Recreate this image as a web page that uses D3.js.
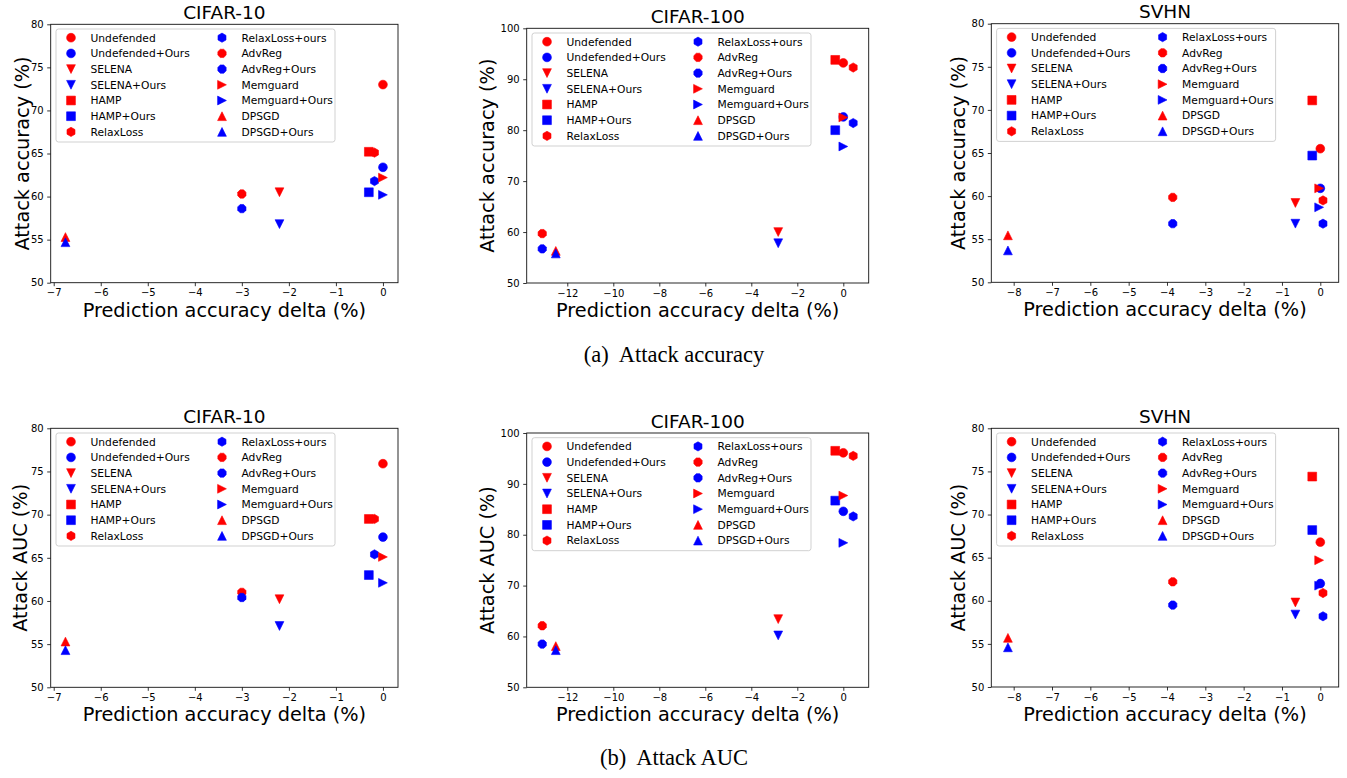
<!DOCTYPE html>
<html>
<head>
<meta charset="utf-8">
<script src="https://cdn.jsdelivr.net/npm/d3@7"></script>
<style>
  html, body { margin: 0; padding: 0; background: #fff; }
  svg { display: block; }
</style>
</head>
<body>
<svg id="chart" width="1347" height="778"></svg>
<script>
// ---------------- DATA ----------------
const methods = ["Undefended", "Undefended+Ours", "SELENA", "SELENA+Ours", "HAMP", "HAMP+Ours",
  "RelaxLoss", "RelaxLoss+ours", "AdvReg", "AdvReg+Ours", "Memguard", "Memguard+Ours", "DPSGD", "DPSGD+Ours"];

// prediction accuracy delta (%) per method, per dataset
const cifar10Delta  = [0, 0, -2.2, -2.2, -0.3, -0.3, -0.18, -0.18, -3.0, -3.0, 0, 0, -6.75, -6.75];
const cifar100Delta = [0, 0, -2.83, -2.83, -0.35, -0.35, 0.43, 0.43, -13.09, -13.09, 0, 0, -12.5, -12.5];
const svhnDelta     = [0, 0, -0.65, -0.65, -0.21, -0.21, 0.07, 0.07, -3.85, -3.85, -0.03, -0.03, -8.15, -8.15];

// attack accuracy (%)
const cifar10Acc  = [73.0, 63.4, 60.5, 56.8, 65.2, 60.5, 65.1, 61.8, 60.3, 58.6, 62.2, 60.2, 55.3, 54.7];
const cifar100Acc = [93.2, 82.6, 60.0, 57.8, 93.8, 80.0, 92.3, 81.4, 59.7, 56.7, 82.5, 76.8, 56.3, 55.8];
const svhnAcc     = [65.5, 60.9, 59.2, 56.8, 71.1, 64.7, 59.5, 56.8, 59.85, 56.8, 60.9, 58.7, 55.45, 53.7];

// attack AUC (%)
const cifar10Auc  = [75.9, 67.4, 60.2, 57.1, 69.5, 63.0, 69.5, 65.4, 61.0, 60.4, 65.1, 62.1, 55.3, 54.3];
const cifar100Auc = [96.1, 84.6, 63.4, 60.2, 96.5, 86.7, 95.5, 83.6, 62.1, 58.5, 87.7, 78.4, 58.1, 57.3];
const svhnAuc     = [66.8, 62.0, 59.8, 58.4, 74.4, 68.2, 60.9, 58.2, 62.2, 59.5, 64.7, 61.75, 55.7, 54.6];

const cifar10XTicks  = [-7, -6, -5, -4, -3, -2, -1, 0];
const cifar100XTicks = [-12, -10, -8, -6, -4, -2, 0];
const svhnXTicks     = [-8, -7, -6, -5, -4, -3, -2, -1, 0];
const yTicks80  = [50, 55, 60, 65, 70, 75, 80];
const yTicks100 = [50, 60, 70, 80, 90, 100];

const datasetTitles = ["CIFAR-10", "CIFAR-100", "SVHN"];
const rowYLabels = ["Attack accuracy (%)", "Attack AUC (%)"];
const xLabel = "Prediction accuracy delta (%)";
const captions = ["(a)  Attack accuracy", "(b)  Attack AUC"];

// ---------------- STYLE ----------------
const markerShapes = ["o", "o", "v", "v", "s", "s", "h", "h", "8", "8", ">", ">", "^", "^"];
const markerColors = methods.map((m, i) => i % 2 === 0 ? "#ff0000" : "#0000ff");
const MS = 8.8;

function markerPath(shape, ms) {
  const h = ms / 2;
  const poly = pts => "M" + pts.map(p => p[0].toFixed(3) + "," + p[1].toFixed(3)).join("L") + "Z";
  const reg = (n, rot, r) => d3.range(n).map(k => {
    const a = rot + k * 2 * Math.PI / n;
    return [r * Math.sin(a), -r * Math.cos(a)];
  });
  switch (shape) {
    case "o": return d3.symbol(d3.symbolCircle, Math.PI * h * h)();
    case "s": return poly([[-h, -h], [h, -h], [h, h], [-h, h]]);
    case "^": return poly([[0, -h], [h, h], [-h, h]]);
    case "v": return poly([[0, h], [h, -h], [-h, -h]]);
    case ">": return poly([[h, 0], [-h, h], [-h, -h]]);
    case "h": return poly(reg(6, 0, h * 1.05));
    case "8": return poly(reg(8, Math.PI / 8, h * 1.02));
  }
}

// ---------------- LAYOUT ----------------
const panels = [
  {title: 0, row: 0, x: cifar10Delta,  y: cifar10Acc,  xt: cifar10XTicks,  yt: yTicks80,  xd: [-7.064, 0.32],  yd: [50, 80],  L: 50.7,  R: 398,    T: 24.3, B: 282.7, yl: 21.7},
  {title: 1, row: 0, x: cifar100Delta, y: cifar100Acc, xt: cifar100XTicks, yt: yTicks100, xd: [-13.765, 1.104], yd: [50, 100], L: 526.7, R: 868.7,  T: 28.3, B: 283,   yl: 487.3},
  {title: 2, row: 0, x: svhnDelta,     y: svhnAcc,     xt: svhnXTicks,     yt: yTicks80,  xd: [-8.584, 0.48],  yd: [50, 80],  L: 991.3, R: 1338.7, T: 23.7, B: 282.3, yl: 958.3},
  {title: 0, row: 1, x: cifar10Delta,  y: cifar10Auc,  xt: cifar10XTicks,  yt: yTicks80,  xd: [-7.064, 0.32],  yd: [50, 80],  L: 50.7,  R: 398,    T: 428.3, B: 687.3, yl: 20.5},
  {title: 1, row: 1, x: cifar100Delta, y: cifar100Auc, xt: cifar100XTicks, yt: yTicks100, xd: [-13.765, 1.104], yd: [50, 100], L: 526.7, R: 868.7,  T: 433,   B: 687.3, yl: 487.3},
  {title: 2, row: 1, x: svhnDelta,     y: svhnAuc,     xt: svhnXTicks,     yt: yTicks80,  xd: [-8.584, 0.48],  yd: [50, 80],  L: 991.3, R: 1338.7, T: 428.3, B: 687,   yl: 958.3}
];

const svg = d3.select("#chart");
const SANS = "'DejaVu Sans', sans-serif";
const fmt = v => String(v).replace("-", "\u2212");

panels.forEach(p => {
  const g = svg.append("g");
  const x = d3.scaleLinear().domain(p.xd).range([p.L, p.R]);
  const y = d3.scaleLinear().domain(p.yd).range([p.B, p.T]);

  // axes
  const xAxis = d3.axisBottom(x).tickValues(p.xt).tickFormat(fmt).tickSizeOuter(0).tickSize(3.5).tickPadding(3);
  const yAxis = d3.axisLeft(y).tickValues(p.yt).tickFormat(fmt).tickSizeOuter(0).tickSize(3.5).tickPadding(3.5);
  const gx = g.append("g").attr("transform", `translate(0,${p.B})`).call(xAxis);
  const gy = g.append("g").attr("transform", `translate(${p.L},0)`).call(yAxis);
  [gx, gy].forEach(a => {
    a.select(".domain").remove();
    a.selectAll("line").attr("stroke", "#000").attr("stroke-width", 0.8);
    a.selectAll("text").attr("font-family", SANS).attr("font-size", 10).attr("fill", "#000");
  });

  // frame
  g.append("rect").attr("x", p.L).attr("y", p.T).attr("width", p.R - p.L).attr("height", p.B - p.T)
    .attr("fill", "none").attr("stroke", "#111").attr("stroke-width", 0.9);

  // title
  g.append("text").attr("x", (p.L + p.R) / 2).attr("y", p.T - 5.5).attr("text-anchor", "middle")
    .attr("font-family", SANS).attr("font-size", 18.5).attr("fill", "#000").text(datasetTitles[p.title]);

  // x label
  g.append("text").attr("x", (p.L + p.R) / 2).attr("y", p.B + 34).attr("text-anchor", "middle")
    .attr("font-family", SANS).attr("font-size", 19.3).attr("fill", "#000").text(xLabel);

  // y label
  g.append("text").attr("transform", `translate(${p.yl},${(p.T + p.B) / 2}) rotate(-90)`)
    .attr("text-anchor", "middle").attr("dy", "0.36em")
    .attr("font-family", SANS).attr("font-size", 19.3).attr("fill", "#000").text(rowYLabels[p.row]);

  // points
  const pts = methods.map((m, i) => ({i, xv: p.x[i], yv: p.y[i]}));
  g.append("g").selectAll("path").data(pts).join("path")
    .attr("transform", d => `translate(${x(d.xv)},${y(d.yv)})`)
    .attr("d", d => markerPath(markerShapes[d.i], MS))
    .attr("fill", d => markerColors[d.i])
    .attr("stroke", d => markerColors[d.i]).attr("stroke-width", 0.6);

  // legend
  const lx = p.L + 5.3, ly = p.T + 4.7, lw = 279, lh = 113;
  const lg = g.append("g");
  lg.append("rect").attr("x", lx).attr("y", ly).attr("width", lw).attr("height", lh)
    .attr("rx", 2.5).attr("fill", "#fff").attr("fill-opacity", 0.8)
    .attr("stroke", "#cccccc").attr("stroke-width", 0.9);
  const items = lg.selectAll("g.item").data(methods.map((m, i) => ({m, i}))).join("g")
    .attr("transform", d => {
      const col = Math.floor(d.i / 7), row = d.i % 7;
      return `translate(${lx + 15 + col * 151},${ly + 8.7 + row * 15.7})`;
    });
  items.append("path").attr("d", d => markerPath(markerShapes[d.i], MS))
    .attr("fill", d => markerColors[d.i]).attr("stroke", d => markerColors[d.i]).attr("stroke-width", 0.6);
  items.append("text").attr("x", 19.5).attr("dy", "0.36em")
    .attr("font-family", SANS).attr("font-size", 10.7).attr("fill", "#000").text(d => d.m);
});

// captions
[[362, 0], [765, 1]].forEach(([yy, k]) => {
  svg.append("text").attr("x", 674).attr("y", yy).attr("text-anchor", "middle")
    .attr("font-family", "'Liberation Serif', 'Times New Roman', serif").attr("font-size", 22.5)
    .attr("fill", "#000").attr("xml:space", "preserve").style("white-space", "pre").text(captions[k]);
});
</script>
</body>
</html>
